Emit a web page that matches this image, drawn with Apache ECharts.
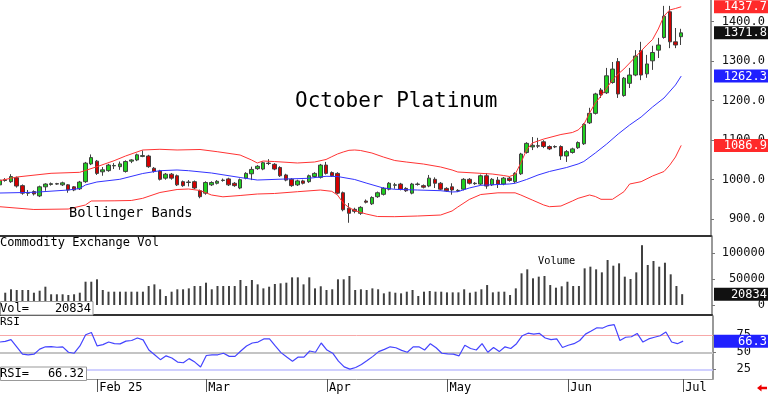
<!DOCTYPE html>
<html>
<head>
<meta charset="utf-8">
<script src="https://cdn.jsdelivr.net/npm/echarts@6.0.0/dist/echarts.min.js"></script>
<style>html,body{margin:0;padding:0;background:#fff;}#c{width:768px;height:394px;}</style>
</head>
<body>
<div id="c"></div>
<script>
// ---- data (bar index 0..119; index 17 = Jan 31, 119 = Jun 30) ----
const monthTickIdx = [17, 36, 57, 78, 99, 119];
const monthLabels = ['Feb 25', 'Mar', 'Apr', 'May', 'Jun', 'Jul'];
const priceTicks = [900, 1000, 1100, 1200, 1300, 1400];
const volTicks = [0, 50000, 100000];
const rsiTicks = [25, 50, 75];

// [open, close, low, high]
const ohlc = [
[987,999,982,1003],[998,1000,995,1004],[995,1008,992,1014],[1005,984,980,1008],[985,966,962,988],
[966,967,959,974],[970,964,960,973],[959,982,956,985],[982,989,972,991],[988,990,985,993],
[990,989,987,992],[987,992,984,995],[987,974,967,989],[982,974,971,984],[977,994,974,997],
[995,1042,992,1045],[1040,1056,1037,1064],[1047,1016,1012,1050],[1020,1025,1010,1032],[1023,1037,1020,1040],
[1035,1036,1027,1042],[1033,1040,1025,1046],[1021,1046,1018,1049],[1047,1050,1042,1052],[1050,1063,1047,1066],
[1059,1061,1057,1074],[1060,1033,1030,1063],[1029,1021,1018,1032],[1022,1001,998,1025],[1004,1014,1000,1017],
[1014,1004,1000,1017],[1010,987,984,1013],[995,985,982,998],[993,994,983,999],[995,979,976,998],
[972,957,953,975],[966,993,962,996],[987,993,984,996],[991,996,988,999],[998,999,995,1003],
[1002,987,984,1005],[991,985,982,994],[979,1000,976,1003],[1004,1016,1001,1019],[1015,1026,999,1033],
[1028,1034,1025,1037],[1027,1043,1024,1046],[1041,1042,1037,1052],[1039,1027,1024,1042],[1031,1010,1007,1034],
[1012,999,996,1015],[1001,985,982,1004],[987,997,984,1000],[997,991,988,1000],[995,1010,992,1013],
[1008,1016,1005,1019],[1006,1037,1003,1040],[1037,1016,1013,1045],[1018,1010,1007,1021],[1016,966,963,1019],
[967,924,920,970],[928,915,891,941],[925,920,915,929],[915,930,911,933],[946,943,940,950],
[939,955,936,958],[957,967,954,970],[963,978,960,981],[976,991,973,994],[986,987,977,992],
[989,976,973,992],[978,972,969,981],[966,989,963,992],[988,989,985,993],[985,981,978,988],
[984,1004,981,1012],[1001,991,979,1006],[991,976,973,994],[978,972,969,981],[982,974,962,991],
[972,973,969,976],[976,1001,973,1004],[1001,991,988,1004],[990,991,987,994],[989,1010,986,1013],
[1010,984,977,1017],[987,1001,984,1004],[999,989,979,1007],[989,1004,986,1007],[1004,998,995,1007],
[995,1016,992,1019],[1015,1065,1012,1068],[1069,1092,1066,1095],[1083,1087,1075,1108],[1086,1085,1080,1106],
[1096,1084,1080,1100],[1084,1078,1075,1087],[1083,1084,1080,1087],[1084,1060,1050,1087],[1060,1071,1045,1075],
[1069,1078,1066,1081],[1081,1094,1078,1097],[1091,1140,1088,1143],[1144,1168,1141,1182],[1168,1217,1165,1220],
[1227,1215,1207,1232],[1220,1263,1217,1283],[1246,1280,1243,1298],[1299,1217,1207,1308],[1213,1257,1210,1260],
[1244,1265,1232,1283],[1265,1313,1262,1328],[1327,1265,1252,1349],[1268,1293,1258,1316],[1301,1322,1278,1339],
[1328,1341,1308,1359],[1360,1414,1357,1440],[1425,1349,1333,1440],[1349,1341,1333,1384],[1362,1371.8,1341,1382]
];

const volume = [
null,23650,30200,28850,28850,28850,23650,27500,35200,20600,
20600,20600,19200,20600,23650,44800,44800,49400,28850,25600,
25600,25600,25600,25600,25600,25600,36500,39700,30200,17300,
25600,30200,30200,32000,36500,36500,42900,30200,36500,36500,
36500,36500,48100,36500,48100,39700,32000,35200,40400,41700,
42900,53200,53200,39700,53200,32000,36000,28850,30200,49400,
49400,55800,28850,30200,28850,32000,30200,22400,25600,23650,
22400,25600,28850,17300,25600,26900,25600,25600,24300,24300,
24300,30200,23650,25600,30200,38400,24300,25600,25600,19200,
32000,60900,68600,51300,54500,55800,38400,33300,36000,44800,
36500,36500,70500,73700,68600,62800,86500,75600,80100,54500,
50000,62800,115000,76900,84600,73700,81300,59000,36500,20834
];

const rsi = [
65,66,68.6,58,47.2,46.3,47.2,54.6,58,58.4,
57.4,58,50,48.6,59.3,75.6,79,59.3,61.2,65,
62.6,62.3,66.4,67.3,71,68.2,53.3,46.3,39.2,44.8,
41.6,35.6,34.6,40.7,35.6,28.5,45.3,46.3,46.3,48.6,
44,44,51.9,59.3,63.6,65,69.6,69.6,59.3,49.5,
43,37,43,43,51.9,50,63.6,53.3,48.6,37,
28.5,25.2,27.6,32.2,37.8,44,51,54.2,58,56.6,
52.8,50,58,58,53.3,62.6,56.6,48.6,47.6,47.2,
44.8,60.3,55.6,53.3,62.6,50,57,51,58,55.6,
62.6,74.3,78,76.6,77.6,71,68.6,69.6,57,60.3,
62.6,67.3,76.6,81.2,86,85.5,89.2,90.6,67.3,72,
72.8,77.6,65,69.6,72,74.3,79.8,65,62.6,66.32
];

// Bollinger bands: [bar index, price]
const bbUpper = [
[0,997.5],[3,1006.8],[9,1016.2],[14,1018.7],[17,1032.9],[20,1048.1],[22,1060],[25,1075.2],[28,1077],[31,1075.2],
[35,1076.5],[38,1070.9],[42,1062.5],[44,1049.9],[45,1042.3],[46,1047.3],[48,1046],[52,1042.3],[55,1044.8],[57,1051.2],
[58,1058.2],[59,1065.1],[60,1070.1],[61,1074.4],[62,1075.2],[63,1074],[65,1067.6],[67,1057.5],[69,1048.6],[71,1044.8],
[74,1039.7],[77,1032.2],[79,1024.6],[80,1019.5],[83,1017],[86,1014.4],[88,1010.6],[89,1008.1],[90,1013.2],[91,1042.3],
[92,1075.2],[93,1092.9],[95,1103],[98,1114.4],[100,1119.5],[101,1125.8],[102,1139.7],[103,1168.9],[104,1194.2],[105,1211.9],
[106,1232.2],[107,1252.4],[108,1267.6],[109,1280.3],[110,1295.4],[111,1310.6],[112,1325.8],[113,1341],[114,1354.9],[115,1381.5],
[116,1414.4],[117,1429.6],[118,1433.4],[119,1437.7]
];
const bbMiddle = [
[0,966.3],[6,968.1],[12,973.9],[14,977.7],[15,986.6],[17,994.2],[21,1001],[25,1015.7],[28,1022.8],[31,1024.6],
[33,1022.8],[37,1017],[42,1005.6],[45,999.2],[50,1001.8],[54,1003.6],[57,1008.6],[59,1008.1],[62,1000.5],[64,991.6],
[67,979],[69,975.7],[73,973.9],[77,972.2],[79,968.9],[80,969.6],[82,979],[84,985.8],[89,989.1],[90,990.9],
[92,1000.5],[94,1011.9],[96,1020.8],[99,1030.9],[101,1039.8],[102,1046.1],[104,1067.6],[106,1090.4],[108,1115.7],[110,1138.5],
[112,1158.7],[114,1184.1],[116,1206.9],[118,1239.8],[119,1262.3]
];
const bbLower = [
[0,931.7],[6,924.6],[12,925.8],[15,936],[16,946.1],[20,946.6],[23,947.4],[25,952.9],[28,967.6],[31,975.2],
[33,976.5],[35,972.7],[37,961.3],[39,956.7],[42,960],[45,963.8],[48,965.1],[52,969.6],[56,973.9],[58,970.6],
[59,961.3],[60,941],[61,929.6],[62,922],[64,913.2],[66,906.8],[69,906.4],[73,908.1],[77,910.6],[79,920.8],
[80,930.9],[82,949.9],[84,962.5],[87,966.8],[90,966.8],[91,961.3],[93,948.6],[95,936],[96,931.7],[98,933.4],
[100,946.1],[101,952.9],[103,961.3],[104,957.5],[105,950.4],[107,950.4],[109,969.6],[110,989.1],[112,995],[114,1009.4],
[116,1020.8],[117,1037],[118,1057.5],[119,1086.9]
];

const lastUpper = 1437.7, lastClose = 1371.8, lastMiddle = 1262.3, lastLower = 1086.9;
const lastVol = 20834, lastRsi = 66.32;

// ---- chart ----
const mono = "'DejaVu Sans Mono', monospace";
const XMIN = 0.087, XMAX = 124.2;
const chart = echarts.init(document.getElementById('c'), null, {renderer: 'canvas'});

function xAx(k) {
  return {
    type: 'value', gridIndex: k, min: XMIN, max: XMAX,
    axisLine: {show: true, onZero: false, lineStyle: {color: k < 2 ? '#333' : '#999', width: k < 2 ? 2 : 1}},
    axisTick: {show: k === 2, length: 13, customValues: monthTickIdx, lineStyle: {color: '#555'}},
    axisLabel: {show: k === 2, customValues: monthTickIdx,
      formatter: v => { const j = monthTickIdx.indexOf(Math.round(v)); return j >= 0 ? monthLabels[j] : ''; },
      align: 'left', margin: 3, padding: [0, 0, 0, 2], fontFamily: mono, fontSize: 12, color: '#000'},
    splitLine: {show: false}
  };
}
function yAx(k, min, max, ticks, fmt, margin) {
  return {
    type: 'value', gridIndex: k, position: 'right', min: min, max: max,
    axisLine: {show: true, lineStyle: {color: '#777', width: 1.5}},
    axisTick: {show: true, length: 3, customValues: ticks, lineStyle: {color: '#777'}},
    axisLabel: {customValues: ticks, formatter: fmt, align: 'right', margin: margin,
      fontFamily: mono, fontSize: 12, color: '#111'},
    splitLine: {show: false}
  };
}

const option = {
  animation: false,
  backgroundColor: '#fff',
  grid: [
    {left: 0, top: 0, width: 713, height: 236},
    {left: 0, top: 236, width: 713, height: 79},
    {left: 0, top: 316, width: 713, height: 66}
  ],
  xAxis: [xAx(0), xAx(1), xAx(2)],
  yAxis: [
    yAx(0, 857.5, 1454.9, priceTicks, v => v.toFixed(1), 54),
    yAx(1, -19231, 132692, volTicks, v => String(v), 53),
    yAx(2, 10.8, 103.2, rsiTicks, v => String(v), 38)
  ],
  series: [
    {type: 'candlestick', xAxisIndex: 0, yAxisIndex: 0, barWidth: 4,
     data: ohlc.map((d, i) => [i].concat(d)),
     itemStyle: {color: '#1fd01f', color0: '#d40000', borderColor: '#404040', borderColor0: '#404040', borderWidth: 1}},
    {type: 'line', xAxisIndex: 0, yAxisIndex: 0, data: bbUpper, showSymbol: false, symbol: 'none',
     lineStyle: {color: '#ff3333', width: 1}},
    {type: 'line', xAxisIndex: 0, yAxisIndex: 0, data: bbMiddle, showSymbol: false, symbol: 'none',
     lineStyle: {color: '#3333ff', width: 1}},
    {type: 'line', xAxisIndex: 0, yAxisIndex: 0, data: bbLower, showSymbol: false, symbol: 'none',
     lineStyle: {color: '#ff3333', width: 1}},
    {type: 'bar', xAxisIndex: 1, yAxisIndex: 1, barWidth: 2,
     data: volume.map((v, i) => [i, v]), itemStyle: {color: '#404040'}},
    {type: 'line', xAxisIndex: 2, yAxisIndex: 2, data: rsi.map((v, i) => [i, v]), showSymbol: false, symbol: 'none',
     lineStyle: {color: '#4444ff', width: 1.2}, z: 5,
     markLine: {silent: true, symbol: 'none', label: {show: false},
       data: [
         {yAxis: 75, lineStyle: {color: '#f7a8a8', type: 'solid', width: 1}},
         {yAxis: 50, lineStyle: {color: '#c4c4c4', type: 'solid', width: 2}},
         {yAxis: 25, lineStyle: {color: '#c0c0ff', type: 'solid', width: 1.5}}
       ]}}
  ]
};
chart.setOption(option);

function valueBox(yAxisIndex, val, text, bg) {
  const y = chart.convertToPixel({yAxisIndex: yAxisIndex}, val);
  return {type: 'group', z: 100, children: [
    {type: 'rect', z: 100, shape: {x: 714, y: y - 6.5, width: 54, height: 13}, style: {fill: bg}},
    {type: 'text', z: 101, style: {x: 767, y: y + 0.5, text: text, fill: '#fff', font: '12px ' + mono, align: 'right', verticalAlign: 'middle'}}
  ]};
}
function label(x, y, text, size, align) {
  return {type: 'text', z: 100, style: {x: x, y: y, text: text, fill: '#000', font: size + 'px ' + mono, align: align || 'left', verticalAlign: 'middle'}};
}

chart.setOption({
  graphic: [
    label(295, 102, 'October Platinum', 21),
    label(69, 213.5, 'Bollinger Bands', 13.7),
    label(0, 243, 'Commodity Exchange Vol', 12),
    label(538, 261.5, 'Volume', 10.3),
    label(0, 322.5, 'RSI', 11),
    {type: 'rect', z: 99, shape: {x: 0.5, y: 301.5, width: 92.5, height: 13.5}, style: {fill: '#fff', stroke: '#999', lineWidth: 1}},
    label(0, 308.5, 'Vol=', 12),
    label(91, 308.5, String(lastVol), 12, 'right'),
    {type: 'rect', z: 99, shape: {x: 0.5, y: 367, width: 86, height: 13.5}, style: {fill: '#fff', stroke: '#999', lineWidth: 1}},
    label(0, 374, 'RSI=', 12),
    label(84, 374, lastRsi.toFixed(2), 12, 'right'),
    valueBox(0, lastUpper, lastUpper.toFixed(1), '#ff2a2a'),
    valueBox(0, lastClose, lastClose.toFixed(1), '#111111'),
    valueBox(0, lastMiddle, lastMiddle.toFixed(1), '#2020ff'),
    valueBox(0, lastLower, lastLower.toFixed(1), '#ff2a2a'),
    valueBox(1, lastVol, String(lastVol), '#111111'),
    valueBox(2, lastRsi, lastRsi.toFixed(1), '#2020ff'),
    {type: 'polygon', z: 100, shape: {points: [[757, 388], [761.5, 384.5], [761.5, 386.7], [767, 386.7], [767, 389.3], [761.5, 389.3], [761.5, 391.5]]}, style: {fill: '#ee0000'}}
  ]
});
</script>
</body>
</html>
